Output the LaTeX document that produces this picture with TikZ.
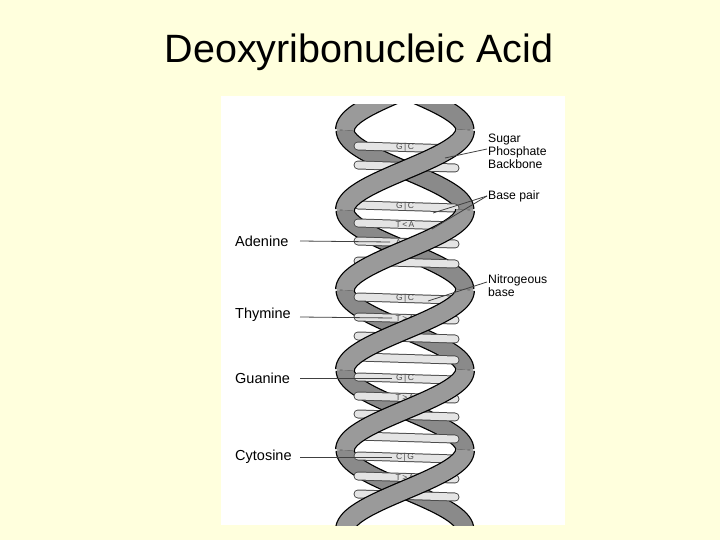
\documentclass[tikz,border=0pt]{standalone}
\usepackage{fontspec}
\setmainfont{Liberation Sans}
\definecolor{bgy}{HTML}{FFFFDD}
\definecolor{rib}{HTML}{9A9A9A}
\definecolor{ribb}{HTML}{8A8A8A}
\definecolor{rung}{HTML}{E4E4E4}
\begin{document}
\begin{tikzpicture}[x=1pt,y=-1pt,
  lab/.style={font=\fontsize{14.5}{16}\selectfont,anchor=west,inner sep=0},
  rlab/.style={font=\fontsize{12.2}{13}\selectfont,anchor=north west,inner sep=0,align=left},
  ptr/.style={draw=black!75,line width=0.8},
  rungbar/.style={line width=9,line cap=round,draw=black!70},
  rungfill/.style={line width=7,line cap=round,draw=rung},
  rt/.style={font=\fontsize{8.5}{9}\selectfont,text=black!70,inner sep=0}]
\useasboundingbox (0,0) rectangle (720,540);
\fill[bgy] (0,0) rectangle (720,540);
\fill[white] (221,96) rectangle (565,525);
\node[font=\fontsize{39.5}{44}\selectfont] (title) at (359,52) {Deoxyribonucleic Acid};
\begin{scope}
\clip (221,105) rectangle (565,525);
% back segments
\foreach \a/\b/\s in {50/130/1,210/290/1,370/450/1,130/210/-1,290/370/-1,450/530/-1}{
  \draw[black,line width=19,line cap=butt] plot[domain=\a:\b,samples=40,variable=\t] ({405+\s*60*cos(2.25*(\t-130))},\t);
  \draw[ribb,line width=16.5,line cap=butt] plot[domain=\a:\b,samples=40,variable=\t] ({405+\s*60*cos(2.25*(\t-130))},\t);
}
% rungs
\foreach \yy/\t in {147/G\,|\,C,166/,206/G\,|\,C,224/T\,<\,A,242/A\,<\,T,262/,298/G\,|\,C,318/T\,>\,A,337/A\,<,358/,378/G\,|\,C,397/T\,>\,A,415/A\,<,437/,457/C\,|\,G,477/T\,>\,A,495/A\,<\,T}{
  \draw[rungbar] (358,\yy-1) -- (455,\yy+2);
  \draw[rungfill] (358,\yy-1) -- (455,\yy+2);
  \node[rt] at (405,\yy+0.5) {\t};
}
% front segments
\foreach \a/\b/\s in {130/210/1,290/370/1,450/530/1,50/130/-1,210/290/-1,370/450/-1}{
  \draw[black,line width=20,line cap=butt] plot[domain=\a:\b,samples=40,variable=\t] ({405+\s*60*cos(2.25*(\t-130))},\t);
  \draw[rib,line width=17.5,line cap=butt] plot[domain=\a:\b,samples=40,variable=\t] ({405+\s*60*cos(2.25*(\t-130))},\t);
}
\end{scope}
% right labels
\node[rlab] (spb) at (488,134) {Sugar\\Phosphate\\Backbone};
\node[rlab] (bp) at (488,190) {Base pair};
\node[rlab] (nb) at (488,274) {Nitrogeous\\base};
\coordinate (c1) at (445,158);
\coordinate (c2) at (433,213);
\coordinate (c3) at (432,229);
\coordinate (c4) at (428,301);
\draw[ptr] (487,149) -- (c1);
\draw[ptr] (487,196) -- (c2);
\draw[ptr] (487,196) -- (c3);
\draw[ptr] (487,282) -- (c4);
% left labels
\node[lab] (ad) at (235,241) {Adenine};
\node[lab] (th) at (235,315) {Thymine};
\node[lab] (gu) at (235,378) {Guanine};
\node[lab] (cy) at (235,457) {Cytosine};
\coordinate (d1) at (390,242);
\coordinate (d2) at (392,318);
\coordinate (d3) at (392,378);
\coordinate (d4) at (392,457);
\draw[ptr] (300,241) -- (d1);
\draw[ptr] (300,317) -- (d2);
\draw[ptr] (300,378) -- (d3);
\draw[ptr] (300,457) -- (d4);
\end{tikzpicture}
\end{document}
